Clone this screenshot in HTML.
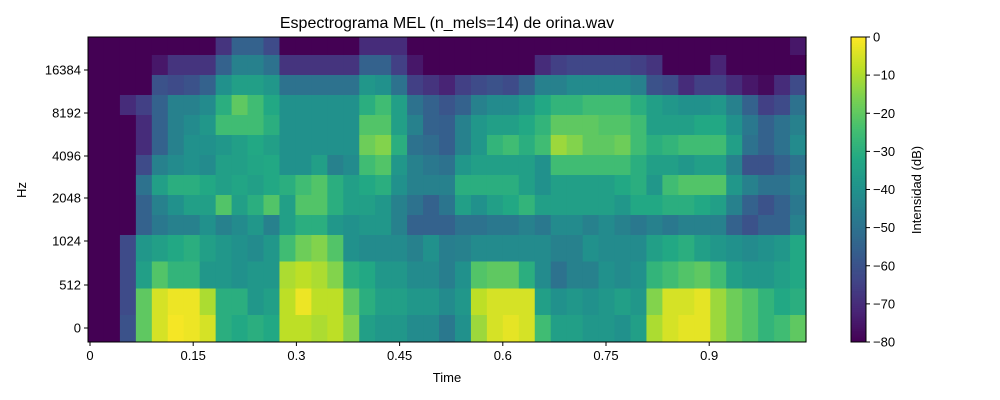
<!DOCTYPE html>
<html><head><meta charset="utf-8">
<style>
body{margin:0;background:#fff;}
svg{display:block;font-family:"Liberation Sans","DejaVu Sans",sans-serif;}
</style></head>
<body>
<svg id="chart" width="1000" height="400" viewBox="0 0 1000 400">
<rect width="1000" height="400" fill="#fff"/>
<text x="447" y="28" font-size="16" text-anchor="middle" fill="#000">Espectrograma MEL (n_mels=14) de orina.wav</text>
<g id="heat"></g>
<g id="axes"></g>
<text transform="translate(26,190) rotate(-90)" font-size="13" text-anchor="middle">Hz</text>
<text x="447" y="382" font-size="13" text-anchor="middle">Time</text>
<g id="cbar"></g>
<text transform="translate(921,190) rotate(-90)" font-size="13" text-anchor="middle">Intensidad (dB)</text>
</svg>
<script>
// Mel band values in dB, rows listed from highest band (top) to lowest band (bottom), 45 frames each
const band13 = [-80,-80,-80,-80,-80,-80,-80,-80,-68,-55,-55,-62,-80,-80,-80,-80,-80,-70,-70,-70,-80,-80,-80,-80,-80,-80,-80,-80,-80,-80,-80,-80,-80,-80,-80,-80,-80,-80,-80,-80,-80,-80,-80,-80,-75];
const band12 = [-80,-80,-80,-80,-75,-68,-68,-68,-55,-45,-45,-50,-68,-68,-68,-68,-68,-55,-55,-65,-75,-80,-80,-80,-80,-80,-80,-80,-70,-65,-63,-63,-63,-63,-65,-68,-80,-80,-80,-72,-80,-80,-80,-80,-80];
const band11 = [-80,-80,-80,-80,-60,-62,-60,-55,-40,-35,-35,-38,-50,-50,-50,-50,-50,-38,-40,-50,-65,-68,-72,-65,-62,-60,-62,-55,-45,-45,-42,-42,-42,-42,-45,-60,-62,-70,-65,-65,-70,-75,-78,-70,-62];
const band10 = [-80,-80,-70,-65,-55,-45,-45,-42,-30,-20,-25,-32,-40,-40,-40,-40,-40,-30,-25,-35,-50,-55,-59,-55,-45,-42,-42,-38,-32,-28,-28,-25,-25,-25,-30,-35,-38,-40,-40,-38,-45,-55,-65,-62,-50];
const band9  = [-80,-80,-80,-70,-55,-45,-42,-38,-25,-25,-25,-30,-40,-40,-40,-40,-40,-22,-22,-35,-45,-55,-56,-45,-38,-35,-35,-32,-28,-20,-20,-20,-22,-22,-25,-35,-35,-35,-32,-32,-40,-48,-55,-50,-45];
const band8  = [-80,-80,-80,-70,-55,-45,-40,-40,-38,-35,-32,-35,-40,-40,-40,-40,-40,-18,-15,-30,-50,-52,-56,-45,-38,-28,-25,-30,-25,-12,-15,-20,-20,-18,-25,-30,-28,-25,-25,-25,-35,-50,-55,-50,-42];
const band7  = [-80,-80,-80,-62,-45,-42,-40,-42,-35,-35,-33,-32,-40,-40,-35,-45,-42,-25,-22,-38,-45,-48,-50,-38,-35,-35,-35,-35,-40,-25,-25,-25,-25,-25,-30,-35,-35,-38,-35,-35,-45,-60,-60,-55,-50];
const band6  = [-80,-80,-80,-50,-35,-30,-30,-32,-35,-33,-35,-32,-30,-25,-22,-30,-35,-32,-30,-40,-45,-45,-45,-30,-30,-30,-30,-35,-40,-35,-35,-35,-35,-32,-30,-38,-25,-22,-22,-22,-38,-45,-50,-50,-45];
const band5  = [-80,-80,-80,-55,-45,-40,-35,-35,-22,-35,-30,-22,-35,-22,-22,-30,-35,-35,-38,-45,-50,-55,-49,-35,-40,-35,-32,-28,-35,-35,-35,-35,-35,-38,-32,-32,-30,-30,-32,-35,-45,-55,-60,-55,-48];
const band4  = [-80,-80,-80,-55,-48,-45,-45,-40,-45,-42,-38,-45,-35,-30,-30,-38,-40,-38,-38,-45,-55,-55,-55,-50,-50,-48,-48,-45,-48,-42,-42,-45,-42,-45,-48,-45,-48,-45,-45,-45,-55,-60,-55,-55,-45];
const band3  = [-80,-80,-62,-38,-35,-32,-30,-35,-38,-40,-42,-38,-25,-18,-15,-22,-40,-42,-42,-42,-45,-40,-46,-45,-42,-42,-42,-42,-42,-45,-45,-40,-42,-42,-42,-35,-32,-30,-35,-38,-40,-42,-40,-38,-32];
const band2  = [-80,-80,-62,-35,-22,-28,-28,-38,-38,-40,-38,-38,-10,-8,-10,-15,-30,-32,-38,-38,-42,-42,-46,-40,-22,-20,-20,-30,-42,-50,-45,-45,-40,-42,-40,-28,-25,-22,-20,-25,-35,-38,-38,-35,-32];
const band1  = [-80,-80,-62,-20,-5,-2,-2,-10,-30,-30,-38,-35,-8,-2,-8,-8,-20,-30,-35,-35,-38,-38,-42,-38,-8,-5,-5,-5,-35,-40,-38,-40,-38,-35,-38,-15,-5,-5,-3,-12,-18,-22,-28,-32,-30];
const band0  = [-80,-80,-60,-20,-5,-1,-2,-5,-30,-32,-30,-32,-8,-8,-10,-8,-15,-35,-38,-38,-42,-42,-48,-40,-12,-5,-3,-5,-25,-35,-35,-38,-38,-40,-35,-10,-5,-3,-3,-12,-18,-22,-28,-25,-20];
const bandsTopToBottom = [band13,band12,band11,band10,band9,band8,band7,band6,band5,band4,band3,band2,band1,band0];
const yTickLabels = ["0","512","1024","2048","4096","8192","16384"];
const xTickValues = [0,0.15,0.3,0.45,0.6,0.75,0.9];
const xTickLabels = ["0","0.15","0.3","0.45","0.6","0.75","0.9"];
const cbarTicks = [0,-10,-20,-30,-40,-50,-60,-70,-80];

const NS="http://www.w3.org/2000/svg";
const PX0=88, PX1=806, PY0=37, PY1=342;
const bandEdges=[37,55,75,95,115,135,155,175,195,215,235,261.5,288.5,315,342];
const yTickPos=[328,285,241,198,156,113,70];
const xScale=t=>90+t*(103.2/0.15);
const viridis=["#440154","#482475","#414487","#355f8d","#2a788e","#21918c","#22a884","#44bf70","#7ad151","#bddf26","#fde725"];
function hex(h){return [1,3,5].map(i=>parseInt(h.substr(i,2),16));}
function color(db){
  let t=Math.max(0,Math.min(1,(db+80)/80))*10;
  let i=Math.min(9,Math.floor(t)),f=t-i;
  const a=hex(viridis[i]),b=hex(viridis[i+1]);
  return "rgb("+a.map((v,k)=>Math.round(v+(b[k]-v)*f)).join(",")+")";
}
function el(tag,attrs,parent){const e=document.createElementNS(NS,tag);for(const k in attrs)e.setAttribute(k,attrs[k]);parent.appendChild(e);return e;}

const heat=document.getElementById("heat");
const nF=band0.length, colW=(PX1-PX0)/nF;
bandsTopToBottom.forEach((row,r)=>{
  row.forEach((v,i)=>{
    const c=el("rect",{x:PX0+i*colW,y:bandEdges[r],width:colW+0.6,height:bandEdges[r+1]-bandEdges[r]+0.4,fill:color(v)},heat);
    
    
  });
});

const axes=document.getElementById("axes");
const frame=el("rect",{x:PX0,y:PY0,width:PX1-PX0,height:PY1-PY0,fill:"none",stroke:"#000","stroke-width":1},axes);


xTickValues.forEach((t,i)=>{
  const x=xScale(t);
  const tk=el("line",{x1:x,x2:x,y1:PY1,y2:PY1+4,stroke:"#000"},axes);
  
  
  const lb=el("text",{x:x,y:PY1+18,"font-size":13,"text-anchor":"middle"},axes);
  lb.textContent=xTickLabels[i];
  
  
});
yTickLabels.forEach((s,i)=>{
  const y=yTickPos[i];
  const tk=el("line",{x1:PX0-4,x2:PX0,y1:y,y2:y,stroke:"#000"},axes);
  
  
  const lb=el("text",{x:PX0-7,y:y+4.5,"font-size":13,"text-anchor":"end"},axes);
  lb.textContent=s;
  
  
});

const cb=document.getElementById("cbar");
const CX=851,CW=15;
for(let k=0;k<160;k++){
  const v=-80+80*(k+0.5)/160;
  const y=PY1-(k+1)*(PY1-PY0)/160;
  const s=el("rect",{x:CX,y:y,width:CW,height:(PY1-PY0)/160+0.5,fill:color(v)},cb);
  
  
}
const cf=el("rect",{x:CX,y:PY0,width:CW,height:PY1-PY0,fill:"none",stroke:"#000"},cb);


cbarTicks.forEach(v=>{
  const y=PY0+(0-v)/80*(PY1-PY0);
  const tk=el("line",{x1:CX+CW,x2:CX+CW+4,y1:y,y2:y,stroke:"#000"},cb);
  
  
  const lb=el("text",{x:CX+CW+7,y:y+4.5,"font-size":13},cb);
  lb.textContent=v===0?"0":"\u2212"+Math.abs(v);
  
  
});
</script>
</body></html>
